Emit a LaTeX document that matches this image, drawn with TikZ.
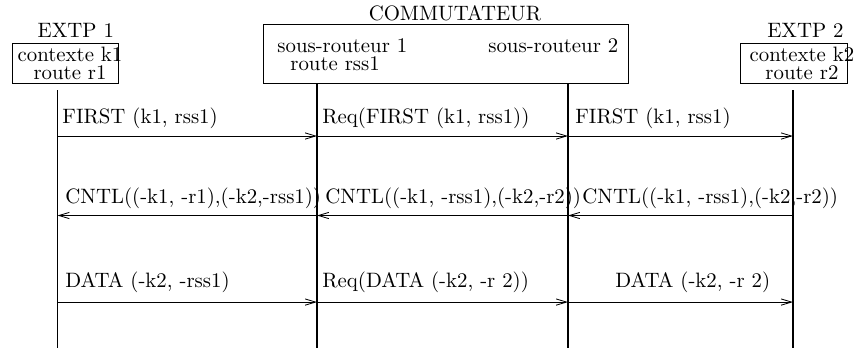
\documentclass[tikz,border=0pt]{standalone}
\usetikzlibrary{arrows.meta}
\begin{document}
\begin{tikzpicture}[>={Straight Barb[length=5pt,width=3pt]}, every node/.style={inner sep=0pt},
box/.style={draw,line width=0.4pt},
life/.style={line width=0.8pt},
msg/.style={->,line width=0.4pt},
lbl/.style={anchor=base west}]
\useasboundingbox (0,0) rectangle (14.45,5.875);
% entities
\node[anchor=base] (n1) at (1.28,5.25) {EXTP 1};
\node[anchor=base] (n2) at (13.597,5.25) {EXTP 2};
\node[anchor=base] (nc) at (7.68,5.537) {COMMUTATEUR};
\node[box,minimum width=1.789cm,minimum height=0.675cm] (b1) at (1.097,4.811) {};
\node[box,minimum width=1.806cm,minimum height=0.675cm] (b2) at (13.394,4.811) {};
\node[box,minimum width=6.161cm,minimum height=0.996cm] (bc) at (7.52,4.971) {};
\node[anchor=base] (c1) at (1.182,4.84) {contexte k1};
\node[anchor=base] (r1) at (1.182,4.525) {route r1};
\node[anchor=base] (c2) at (13.538,4.84) {contexte k2};
\node[anchor=base] (r2) at (13.538,4.525) {route r2};
\node[lbl] (sr1) at (4.676,4.99) {sous-routeur 1};
\node[lbl] (rs1) at (4.895,4.68) {route rss1};
\node[lbl] (sr2) at (8.237,4.99) {sous-routeur 2};
% lifelines
\coordinate (t1) at (0.971,4.355);
\coordinate (t4) at (13.386,4.355);
\coordinate (e1) at (0.971,0);
\coordinate (s1) at (5.351,0);
\coordinate (s2) at (9.588,0);
\coordinate (e2) at (13.386,0);
\draw[life] (t1) -- (e1);
\draw[life] (s1 |- bc.south) -- (s1);
\draw[life] (s2 |- bc.south) -- (s2);
\draw[life] (t4) -- (e2);
% messages
\coordinate (m1) at (0,3.579);
\coordinate (m2) at (0,2.237);
\coordinate (m3) at (0,0.776);
\draw[msg] (e1 |- m1) -- (s1 |- m1);
\draw[msg] (s1 |- m1) -- (s2 |- m1);
\draw[msg] (s2 |- m1) -- (e2 |- m1);
\draw[msg] (s1 |- m2) -- (e1 |- m2);
\draw[msg] (s2 |- m2) -- (s1 |- m2);
\draw[msg] (e2 |- m2) -- (s2 |- m2);
\draw[msg] (e1 |- m3) -- (s1 |- m3);
\draw[msg] (s1 |- m3) -- (s2 |- m3);
\draw[msg] (s2 |- m3) -- (e2 |- m3);
\node[lbl] (f1) at (1.047,3.798) {FIRST (k1, rss1)};
\node[lbl] (f2) at (5.435,3.798) {Req(FIRST (k1, rss1))};
\node[lbl] (f3) at (9.706,3.798) {FIRST (k1, rss1)};
\node[lbl] (k1) at (1.097,2.448) {CNTL((-k1, -r1),(-k2,-rss1))};
\node[lbl] (k2) at (5.486,2.448) {CNTL((-k1, -rss1),(-k2,-r2))};
\node[lbl] (k3) at (9.824,2.448) {CNTL((-k1, -rss1),(-k2,-r2))};
\node[lbl] (d1) at (1.097,1.03) {DATA (-k2, -rss1)};
\node[lbl] (d2) at (5.435,1.03) {Req(DATA (-k2, -r 2))};
\node[lbl] (d3) at (10.381,1.03) {DATA (-k2, -r 2)};
\end{tikzpicture}
\end{document}
